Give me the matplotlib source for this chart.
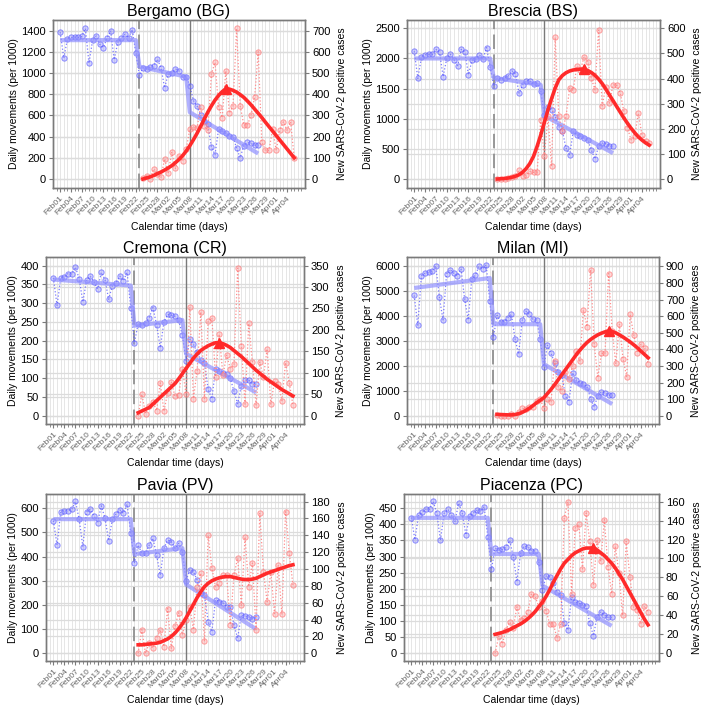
import datetime as dt
import numpy as np
import matplotlib
matplotlib.use("Agg")
import matplotlib.pyplot as plt
from matplotlib.transforms import blended_transform_factory

plt.rcParams['font.family'] = ['Liberation Sans', 'DejaVu Sans']

# day 0 = 2020-02-01
start = dt.date(2020, 2, 1)
tick_days = np.arange(0, 64, 3)
tick_labels = [(start + dt.timedelta(days=int(d))).strftime('%b%d') for d in tick_days]

move_days = np.arange(0, 56)
case_days = np.arange(23, 66)
fit_days = [0, 21, 22, 35, 36, 55]
lockdown1 = 22   # Feb23
lockdown2 = 36   # Mar08

titles = ['Bergamo (BG)', 'Brescia (BS)', 'Cremona (CR)', 'Milan (MI)', 'Pavia (PV)', 'Piacenza (PC)']

# daily movements (per 1000)
bg_move = [1385, 1140, 1320, 1335, 1340, 1335, 1345, 1420, 1090, 1310, 1350, 1270, 1240, 1330, 1395, 1125,
           1290, 1330, 1365, 1330, 1410, 1190, 980,
           1050, 1040, 1060, 1070, 1130, 1050, 860, 990, 1000, 1040, 1020, 960, 965, 880,
           740, 690, 600, 550, 520, 300, 230, 470, 455, 430, 410, 400, 290, 200, 315, 345, 335, 320, 320]
bs_move = [2120, 1670, 2020, 2060, 2070, 2070, 2150, 2100, 1700, 2000, 2070, 1980, 1880, 2150, 2110, 1730,
           1970, 1990, 2060, 1990, 2180, 1860, 1545,
           1672, 1645, 1672, 1710, 1793, 1744, 1424, 1562, 1634, 1628, 1578, 1590, 1468, 1065,
           1203, 1148, 1037, 871, 789, 513, 403, 789, 734, 717, 679, 651, 486, 331, 541, 596, 585, 552, 541]
cr_move = [367, 294, 367, 370, 379, 378, 396, 365, 303, 361, 372, 357, 338, 382, 363, 310,
           347, 354, 372, 360, 382, 288, 195,
           245, 243, 246, 261, 288, 243, 181, 250, 270, 268, 265, 255, 215, 146,
           204, 190, 170, 148, 140, 70, 45, 125, 120, 115, 110, 100, 65, 32, 80, 95, 95, 85, 85]
mi_move = [4830, 3640, 5620, 5720, 5760, 5800, 6020, 4750, 3850, 5700, 5870, 5720, 5620, 5900, 4700, 3850,
           5500, 5650, 6000, 5900, 6060, 4600, 3150,
           4030, 3780, 3780, 3940, 4080, 3100, 2480, 3830, 4200, 4070, 3870, 3840, 3100, 1980,
           2830, 2510, 2140, 1770, 1650, 810, 570, 1740, 1450, 1340, 1280, 1180, 700, 370, 810, 970, 920, 840, 840]
pv_move = [548, 448, 586, 590, 590, 596, 628, 554, 441, 586, 596, 570, 541, 610, 559, 466,
           554, 577, 593, 579, 617, 497, 375,
           448, 414, 414, 448, 476, 407, 324, 434, 469, 462, 434, 455, 420, 300,
           345, 338, 303, 251, 240, 131, 90, 221, 214, 210, 193, 193, 117, 62, 159, 154, 152, 142, 148]
pc_move = [421, 352, 429, 437, 447, 447, 471, 434, 350, 434, 447, 429, 409, 466, 434, 367,
           426, 434, 445, 440, 455, 362, 261,
           326, 320, 322, 329, 350, 300, 222, 310, 333, 330, 318, 318, 284, 195,
           240, 238, 217, 191, 181, 93, 72, 175, 160, 155, 150, 147, 93, 54, 114, 129, 119, 111, 111]

# segmented fit of movements, values at fit_days
bg_fit = [1310, 1310, 1060, 965, 630, 240]
bs_fit = [2000, 2000, 1680, 1560, 1050, 430]
cr_fit = [363, 347, 240, 255, 165, 62]
mi_fit = [5130, 5530, 3680, 3680, 2080, 480]
pv_fit = [555, 555, 410, 435, 285, 100]
pc_fit = [420, 420, 308, 308, 210, 85]

# new positive cases, Feb24 - Apr06
bg_cases = [5, 15, 2, 48, 25, 8, 95, 30, 125, 50, 108, 85, 140, 235, 245, 240, 340, 250, 230, 495, 550,
            340, 290, 510, 310, 345, 710, 345, 255, 255, 300, 385, 600, 175, 135, 135, 235, 135, 230, 270,
            230, 270, 100]
bs_cases = [0, 0, 2, 4, 7, 12, 34, 13, 17, 30, 26, 28, 236, 90, 249, 50, 564, 249, 190, 250, 362,
            355, 450, 434, 487, 467, 401, 355, 593, 291, 368, 302, 375, 375, 342, 269, 203, 156, 170, 262,
            176, 150, 143]
cr_cases = [0, 50, 5, 23, 32, 12, 77, 10, 54, 79, 45, 48, 110, 50, 253, 40, 105, 242, 40, 221, 228,
            91, 190, 94, 141, 110, 120, 344, 163, 27, 215, 125, 25, 125, 90, 156, 27, 81, 74, 35,
            124, 77, 25]
mi_cases = [6, 0, 2, 2, 12, 0, 22, 46, 42, 52, 52, 92, 102, 46, 100, 86, 331, 172, 152, 265, 222,
            300, 391, 331, 637, 537, 880, 431, 231, 377, 377, 856, 511, 317, 551, 345, 237, 611, 485, 381,
            431, 411, 311]
pv_cases = [0, 28, 0, 12, 6, 18, 28, 8, 53, 6, 32, 48, 22, 40, 55, 28, 79, 95, 14, 140, 101,
            79, 83, 93, 93, 34, 93, 113, 57, 138, 79, 107, 28, 166, 97, 61, 97, 47, 105, 46,
            168, 119, 81]
pc_cases = [0, 18, 10, 25, 33, 27, 49, 35, 37, 44, 63, 60, 49, 55, 45, 31, 31, 16, 31, 143, 160,
            63, 132, 136, 89, 148, 118, 72, 120, 97, 141, 91, 63, 113, 85, 40, 118, 81, 49, 46,
            31, 50, 44]

# smoothed cases curve
bg_curve = [0, 5, 10, 17, 25, 33, 42, 52, 63, 77, 92, 110, 132, 157, 185, 215, 248, 282, 315, 345,
            372, 394, 412, 425, 424, 418, 410, 398, 385, 368, 350, 330, 310, 290, 268, 247, 226, 205,
            184, 163, 142, 121, 100]
bs_curve = [0, 1, 2, 4, 7, 11, 17, 27, 42, 62, 90, 130, 175, 225, 275, 320, 362, 395, 412, 423,
            430, 434, 436, 437, 437, 432, 424, 413, 398, 380, 358, 335, 312, 289, 266, 243, 222, 202,
            184, 168, 155, 144, 135]
cr_curve = [7, 11, 15, 19, 27, 35, 43, 51, 59, 67, 75, 86, 98, 110, 122, 134, 144, 152, 158, 163,
            167, 170, 170, 168, 164, 159, 152, 145, 138, 130, 122, 114, 106, 99, 92, 85, 79, 73,
            67, 61, 56, 51, 46]
mi_curve = [10, 9, 8, 7, 7, 9, 14, 22, 33, 47, 63, 80, 95, 110, 135, 160, 188, 218, 248, 278,
            308, 338, 368, 395, 420, 442, 460, 475, 488, 498, 506, 510, 508, 500, 488, 475, 460, 445,
            428, 410, 390, 370, 350]
pv_curve = [10, 10, 10.5, 11, 11.5, 12, 13, 15, 17, 20, 24, 29, 35, 42, 50, 58, 66, 73, 79, 83,
            86, 88, 89.5, 90.5, 91, 91, 90, 89, 88, 87.5, 87.5, 88, 89, 91, 93, 95, 96.5, 98,
            99.5, 101, 102.5, 104, 105]
pc_curve = [20, 21, 22, 23.5, 25, 27, 29, 31, 33.5, 36.5, 40, 44, 49, 54, 60, 67, 75, 82, 89, 95,
            99, 103, 106, 108, 110, 111, 111, 111, 109, 106, 103, 99, 95, 90, 84, 78, 71, 64,
            57, 50, 43, 36, 30]

peak_days = [46, 47, 45, 54, None, 50]

moves = [bg_move, bs_move, cr_move, mi_move, pv_move, pc_move]
fits = [bg_fit, bs_fit, cr_fit, mi_fit, pv_fit, pc_fit]
cases = [bg_cases, bs_cases, cr_cases, mi_cases, pv_cases, pc_cases]
curves = [bg_curve, bs_curve, cr_curve, mi_curve, pv_curve, pc_curve]

left_ticks = [np.arange(0, 1401, 200), np.arange(0, 2501, 500), np.arange(0, 401, 50),
              np.arange(0, 6001, 1000), np.arange(0, 601, 100), np.arange(0, 451, 50)]
right_ticks = [np.arange(0, 701, 100), np.arange(0, 601, 100), np.arange(0, 351, 50),
               np.arange(0, 901, 100), np.arange(0, 181, 20), np.arange(0, 161, 20)]
left_lims = [(-85, 1500), (-149, 2638), (-22, 423), (-319, 6372), (-32, 659), (-24, 494)]
right_lims = [(-42.5, 750), (-35.8, 633), (-19.3, 370), (-47.9, 956), (-9.2, 189), (-8.1, 168)]

# axes boxes in pixels: left, top, right, bottom
boxes = [(53, 20, 305, 188), (407, 20, 660, 188),
         (46, 257, 304, 424), (407, 257, 659, 424),
         (46, 494, 304, 661), (404, 494, 659, 661)]

W, H = 708, 709
fig = plt.figure(figsize=(W / 100, H / 100), dpi=100)

blue = '#5a5aff'
red = '#ff2a2a'
pink = '#ff8c8c'
frame = '#7a7a7a'
gridc = '#dcdcdc'

for i in range(6):
    l, t, r, b = boxes[i]
    ax = fig.add_axes([l / W, 1 - b / H, (r - l) / W, (b - t) / H])
    ax2 = ax.twinx()
    ax.set_xlim(-2, 68)
    ax.set_ylim(*left_lims[i])
    ax2.set_ylim(*right_lims[i])

    # grid
    for d in range(-1, 68):
        ax.axvline(d, color='#e2e2e2', lw=0.6, zorder=0)
    for v in left_ticks[i]:
        ax.axhline(v, color=gridc, lw=0.9, zorder=0)
    tr = blended_transform_factory(ax.transAxes, ax2.transData)
    for v in right_ticks[i]:
        ax.plot([0, 1], [v, v], transform=tr, color=gridc, lw=0.9, zorder=0)

    ax.axvline(lockdown1, color='#909090', lw=1.3, ls=(0, (8, 3)), zorder=1)
    ax.axvline(lockdown2, color='#7a7a7a', lw=1.0, zorder=1)

    # movements
    ax.plot(move_days, moves[i], ls=':', color=blue, lw=0.9, alpha=0.8, zorder=2)
    ax.plot(move_days, moves[i], 'o', ms=3.8, mfc=(0.55, 0.55, 1.0, 0.4), mec=(0.35, 0.35, 1.0, 0.65),
            mew=0.7, zorder=3)
    ax.plot(fit_days, fits[i], color='#9090ff', lw=3.0, alpha=0.7, solid_capstyle='butt', zorder=4)

    # cases
    ax2.plot(case_days, cases[i], ls=':', color=pink, lw=0.9, zorder=2)
    ax2.plot(case_days, cases[i], 'o', ms=3.8, mfc=(1.0, 0.6, 0.6, 0.4), mec=(1.0, 0.45, 0.45, 0.65),
             mew=0.7, zorder=3)
    ax2.plot(case_days, curves[i], color=red, lw=2.6, zorder=4)
    if peak_days[i] is not None:
        k = peak_days[i] - case_days[0]
        ax2.plot(peak_days[i], curves[i][k], '^', color=red, ms=7, zorder=5)

    # axes styling
    ax.set_xticks(tick_days)
    ax.set_xticklabels(tick_labels, rotation=45, ha='right', rotation_mode='anchor',
                       fontsize=6, color='#666666')
    ax.set_xticks(np.arange(-1, 68), minor=True)
    ax.set_yticks(left_ticks[i])
    ax2.set_yticks(right_ticks[i])
    ax.tick_params(axis='y', labelsize=8, length=3, color=frame, pad=2)
    ax2.tick_params(axis='y', labelsize=8, length=3, color=frame, pad=2)
    ax.tick_params(axis='x', which='major', length=3, color=frame, pad=2)
    ax.tick_params(axis='x', which='minor', length=1.8, color=frame)
    for a in (ax, ax2):
        for s in a.spines.values():
            s.set_color(frame)
            s.set_linewidth(1.0)
    ax.set_title(titles[i], fontsize=11.5, pad=3)
    ax.set_xlabel('Calendar time (days)', fontsize=7.5, labelpad=4)
    ax.set_ylabel('Daily movements (per 1000)', fontsize=7.5, labelpad=2)
    ax2.set_ylabel('New SARS-CoV-2 positive cases', fontsize=7.5, labelpad=5)

fig.savefig('out.png', dpi=100)
